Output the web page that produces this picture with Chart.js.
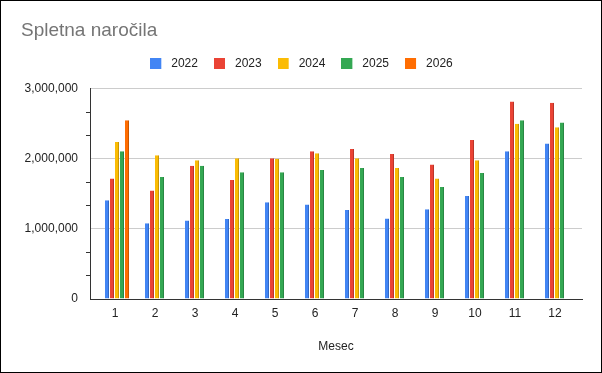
<!DOCTYPE html>
<html><head><meta charset="utf-8">
<script src="https://cdn.jsdelivr.net/npm/chart.js@4.4.1/dist/chart.umd.min.js"></script>
<style>
html,body{margin:0;padding:0;background:#fff;}
#wrap{width:600px;height:371px;border:1px solid #000;}
canvas{display:block;}
</style></head><body>
<div id="wrap"><canvas id="c" width="600" height="371"></canvas></div>
<script>
// ---- data ----
const months = ['1','2','3','4','5','6','7','8','9','10','11','12'];
const seriesNames = ['2022','2023','2024','2025','2026'];
const v2022 = [1410000,1080000,1120000,1140000,1380000,1350000,1270000,1150000,1280000,1470000,2110000,2220000];
const v2023 = [1720000,1550000,1900000,1700000,2010000,2110000,2140000,2070000,1920000,2270000,2820000,2800000];
const v2024 = [2240000,2050000,1980000,2010000,2000000,2080000,2010000,1870000,1720000,1980000,2500000,2450000];
const v2025 = [2110000,1740000,1900000,1810000,1810000,1840000,1870000,1740000,1600000,1800000,2550000,2520000];
const v2026 = [2550000,null,null,null,null,null,null,null,null,null,null,null];
const yTickValues = [0,333333,666667,1000000,1333333,1666667,2000000,2333333,2666667,3000000];
const yTickLabels = ['0','','','1,000,000','','','2,000,000','','','3,000,000'];
const chartTitle = 'Spletna naročila';
const xTitle = 'Mesec';

// ---- style ----
const fills = ['#4285F4','#EA4335','#FBBC04','#34A853','#FF6D01'];
const edges = ['#3369c4','#bb3529','#c99603','#2a8643','#c95600'];
const FONT = "'Liberation Sans', Arial, sans-serif";
Chart.defaults.font.family = FONT;
Chart.defaults.color = '#222';

function swatch(color){
  const c = document.createElement('canvas');
  c.width = 15; c.height = 11;
  const g = c.getContext('2d');
  g.fillStyle = color; g.fillRect(0,0,11,11);
  return c;
}
const swatches = fills.map(swatch);

const allValues = [v2022, v2023, v2024, v2025, v2026];
const datasets = allValues.map((vals, i) => ({
  label: seriesNames[i],
  data: vals,
  backgroundColor: fills[i],
  borderColor: edges[i],
  borderWidth: {top:0, right:1, bottom:0, left:0},
  borderSkipped: false,
  categoryPercentage: 0.625,
  barPercentage: 0.8
}));

new Chart(document.getElementById('c'), {
  type: 'bar',
  data: { labels: months, datasets },
  options: {
    responsive: false,
    animation: false,
    devicePixelRatio: 1,
    layout: { padding: { left: 20, right: 19, top: 0, bottom: 0 } },
    plugins: {
      tooltip: { enabled: false },
      title: {
        display: true, text: chartTitle, align: 'start', color: '#757575',
        font: { size: 19, weight: 'normal', family: FONT },
        padding: { top: 18, bottom: 0 }
      },
      subtitle: {
        display: true, text: '', weight: 500,
        font: { size: 1, lineHeight: 1 }, padding: { top: 0, bottom: 8 }
      },
      legend: {
        display: true, position: 'top', align: 'center',
        labels: {
          usePointStyle: true, pointStyleWidth: 15, boxHeight: 11,
          padding: 16, color: '#222',
          font: { size: 12, family: FONT },
          generateLabels(chart) {
            const items = Chart.defaults.plugins.legend.labels.generateLabels(chart);
            items.forEach(it => { it.pointStyle = swatches[it.datasetIndex]; it.lineWidth = 0; });
            return items;
          }
        }
      }
    },
    scales: {
      x: {
        type: 'category',
        grid: { display: false, drawTicks: false },
        border: { display: true, color: '#333', width: 1 },
        ticks: { padding: 7, labelOffset: -2, color: '#222', font: { size: 12 }, maxRotation: 0, autoSkip: false },
        title: { display: true, text: xTitle, color: '#222', font: { size: 12 }, padding: { top: 0, bottom: 18 } },
        afterBuildTicks(s) { s._startValue -= 0.175; s._valueRange += 0.3; },
        afterFit(s) { s.height = 73; }
      },
      y: {
        min: 0, max: 3000000,
        afterBuildTicks(s) { s.ticks = yTickValues.map(v => ({ value: v })); },
        afterFit(s) { s.width = 69; },
        grid: {
          color: c => (yTickLabels[c.index] ? '#cccccc' : 'rgba(0,0,0,0)'),
          tickColor: c => (yTickLabels[c.index] ? 'rgba(0,0,0,0)' : '#333'),
          tickLength: 4, lineWidth: 1
        },
        border: { display: true, color: '#333', width: 1 },
        ticks: {
          autoSkip: false, padding: 8, color: '#222', font: { size: 12 },
          callback: (v, i) => yTickLabels[i]
        }
      }
    }
  }
});
</script>
</body></html>
